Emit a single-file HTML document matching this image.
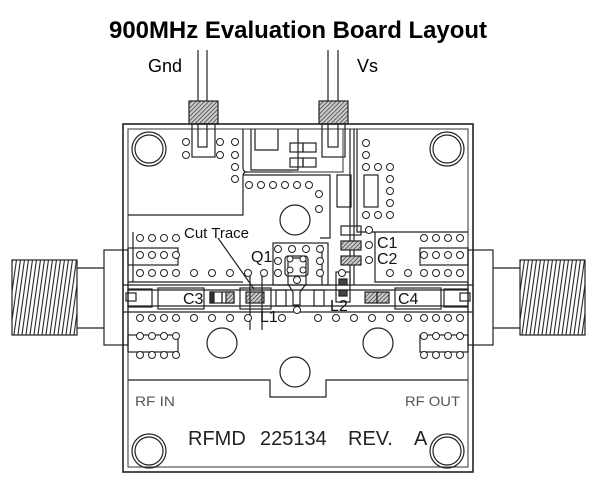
<!DOCTYPE html>
<html><head><style>
html,body{margin:0;padding:0;background:#fff;width:609px;height:486px;overflow:hidden}
svg{display:block}
text{font-family:"Liberation Sans",sans-serif}
</style></head><body>
<svg width="609" height="486" viewBox="0 0 609 486" xmlns="http://www.w3.org/2000/svg">
<defs>
<pattern id="h" width="3" height="3" patternUnits="userSpaceOnUse" patternTransform="rotate(45)"><rect width="3" height="3" fill="#ccc"/><line x1="0" y1="0" x2="0" y2="3" stroke="#333" stroke-width="1.4"/></pattern>
<pattern id="v" width="4" height="10" patternUnits="userSpaceOnUse" patternTransform="skewX(-8)"><line x1="1" y1="0" x2="1" y2="10" stroke="#222" stroke-width="1.1"/></pattern>
</defs>
<text x="298" y="38" font-size="24" font-weight="bold" text-anchor="middle" textLength="378" lengthAdjust="spacingAndGlyphs">900MHz Evaluation Board Layout</text>
<text x="148" y="72" font-size="18">Gnd</text>
<text x="357" y="72" font-size="18">Vs</text>
<g fill="none" stroke="#222" stroke-width="1.2">
<line x1="198" y1="50" x2="198" y2="101"/><line x1="207" y1="50" x2="207" y2="101"/>
<rect x="189" y="101" width="29" height="23" fill="url(#h)"/>
<line x1="328" y1="50" x2="328" y2="101"/><line x1="338" y1="50" x2="338" y2="101"/>
<rect x="319" y="101" width="29" height="23" fill="url(#h)"/>
<rect x="123" y="124" width="350" height="348" stroke-width="1.6"/>
<rect x="128" y="129" width="340" height="338" stroke="#555"/>
<rect x="198" y="124" width="9" height="23"/><rect x="192" y="124" width="23" height="33"/>
<rect x="328" y="124" width="10" height="23"/><rect x="322" y="124" width="23" height="33"/>
<path d="M128 215 H243 V176 Q243 172 247 172 H292 M243 129 V168 Q243 172 247 172"/>
<circle cx="149" cy="149" r="17"/><circle cx="149" cy="149" r="14"/>
<path d="M251 129 V170 H298 V129"/>
<path d="M255 129 V150 H278 V129"/>
<rect x="290" y="143" width="13" height="9"/><rect x="303" y="143" width="13" height="9"/>
<rect x="290" y="158" width="13" height="9"/><rect x="303" y="158" width="13" height="9"/>
<path d="M245 172 H343 V129" stroke="#555"/>
<path d="M243 175 H330 V238 H320"/>
<rect x="337" y="175" width="14" height="32"/>
<line x1="350" y1="129" x2="350" y2="285"/>
<line x1="354" y1="129" x2="354" y2="285"/>
<path d="M357 129 V232 H468"/>
<rect x="364" y="175" width="14" height="32"/>
<circle cx="447" cy="149" r="17"/><circle cx="447" cy="149" r="14"/>
<rect x="128" y="248" width="50" height="17"/>
<line x1="128" y1="282" x2="243" y2="282"/>
<path d="M133 282 V232"/>
<path d="M375 232 V282 H468"/>
<rect x="420" y="248" width="48" height="17"/>
<line x1="123" y1="285" x2="473" y2="285"/><line x1="123" y1="312" x2="473" y2="312"/>
<line x1="128" y1="290" x2="468" y2="290"/><line x1="128" y1="306" x2="468" y2="306"/>
<rect x="128" y="289" width="24" height="18"/><rect x="126" y="293" width="10" height="8"/>
<rect x="444" y="289" width="24" height="18"/><rect x="460" y="293" width="10" height="8"/>
<rect x="158" y="288" width="46" height="21"/>
<rect x="395" y="288" width="46" height="21"/>
<rect x="210" y="292" width="12" height="11"/><rect x="222" y="292" width="12" height="11"/>
<rect x="226" y="292" width="8" height="11" fill="url(#h)"/><rect x="210" y="292" width="4" height="11" fill="#333"/>
<rect x="240" y="288" width="31" height="21"/><rect x="246" y="292" width="18" height="11" fill="url(#h)"/>
<line x1="250" y1="270" x2="250" y2="330"/><line x1="262" y1="270" x2="262" y2="330"/>
<rect x="276" y="290" width="10" height="16"/><rect x="314" y="290" width="10" height="16"/>
<rect x="365" y="292" width="12" height="11" fill="url(#h)"/><rect x="377" y="292" width="12" height="11" fill="url(#h)"/>
<rect x="336" y="272" width="14" height="30"/><rect x="339" y="279" width="8" height="6" fill="#444"/><rect x="339" y="290" width="8" height="6" fill="#444"/>
<rect x="273" y="243" width="55" height="42"/>
<rect x="285" y="256" width="23" height="20" rx="3"/>
<path d="M288 258 H306 V284 L300 292 V305 H293 V292 L288 284 Z"/>
<rect x="341" y="226" width="20" height="9"/>
<rect x="341" y="241" width="20" height="9" fill="url(#h)"/>
<rect x="341" y="256" width="20" height="9" fill="url(#h)"/>
<line x1="322" y1="245" x2="322" y2="285"/>
<line x1="218" y1="238" x2="254" y2="289"/>
<path d="M128 380 H270 V397 H326 V380 H468"/>
<circle cx="295" cy="220" r="15"/><circle cx="222" cy="343" r="15"/><circle cx="378" cy="343" r="15"/><circle cx="295" cy="372" r="15"/>
<rect x="128" y="335" width="50" height="17"/><rect x="420" y="335" width="48" height="17"/>
<circle cx="149" cy="451" r="17"/><circle cx="149" cy="451" r="14"/>
<circle cx="447" cy="451" r="17"/><circle cx="447" cy="451" r="14"/>
<rect x="12" y="260" width="65" height="75" fill="url(#v)"/>
<line x1="77" y1="268" x2="104" y2="268"/><line x1="77" y1="328" x2="104" y2="328"/>
<rect x="104" y="250" width="24" height="95"/>
<rect x="520" y="260" width="65" height="75" fill="url(#v)"/>
<line x1="493" y1="268" x2="520" y2="268"/><line x1="493" y1="328" x2="520" y2="328"/>
<rect x="468" y="250" width="25" height="95"/>
</g>
<g fill="#fff" stroke="#222" stroke-width="1">
<circle cx="186" cy="142" r="3.5"/><circle cx="186" cy="155" r="3.5"/><circle cx="220" cy="142" r="3.5"/><circle cx="220" cy="155" r="3.5"/>
<circle cx="235" cy="142" r="3.5"/><circle cx="235" cy="155" r="3.5"/><circle cx="235" cy="167" r="3.5"/><circle cx="235" cy="179" r="3.5"/>
<circle cx="249" cy="185" r="3.5"/><circle cx="261" cy="185" r="3.5"/><circle cx="273" cy="185" r="3.5"/><circle cx="285" cy="185" r="3.5"/><circle cx="297" cy="185" r="3.5"/><circle cx="309" cy="185" r="3.5"/>
<circle cx="319" cy="194" r="3.5"/><circle cx="319" cy="209" r="3.5"/>
<circle cx="366" cy="143" r="3.5"/><circle cx="366" cy="155" r="3.5"/><circle cx="366" cy="167" r="3.5"/><circle cx="378" cy="167" r="3.5"/><circle cx="390" cy="167" r="3.5"/>
<circle cx="390" cy="179" r="3.5"/><circle cx="390" cy="191" r="3.5"/><circle cx="390" cy="203" r="3.5"/>
<circle cx="366" cy="215" r="3.5"/><circle cx="378" cy="215" r="3.5"/><circle cx="390" cy="215" r="3.5"/>
<circle cx="369" cy="230" r="3.5"/><circle cx="369" cy="245" r="3.5"/><circle cx="369" cy="260" r="3.5"/>
<circle cx="140" cy="238" r="3.5"/><circle cx="152" cy="238" r="3.5"/><circle cx="164" cy="238" r="3.5"/><circle cx="176" cy="238" r="3.5"/>
<circle cx="140" cy="255" r="3.5"/><circle cx="152" cy="255" r="3.5"/><circle cx="164" cy="255" r="3.5"/><circle cx="176" cy="255" r="3.5"/>
<circle cx="140" cy="273" r="3.5"/><circle cx="152" cy="273" r="3.5"/><circle cx="164" cy="273" r="3.5"/><circle cx="176" cy="273" r="3.5"/><circle cx="194" cy="273" r="3.5"/><circle cx="212" cy="273" r="3.5"/><circle cx="230" cy="273" r="3.5"/><circle cx="248" cy="273" r="3.5"/><circle cx="264" cy="273" r="3.5"/>
<circle cx="278" cy="249" r="3.5"/><circle cx="292" cy="249" r="3.5"/><circle cx="306" cy="249" r="3.5"/><circle cx="320" cy="249" r="3.5"/>
<circle cx="278" cy="261" r="3.5"/><circle cx="320" cy="261" r="3.5"/><circle cx="278" cy="273" r="3.5"/><circle cx="320" cy="273" r="3.5"/>
<circle cx="290" cy="259" r="3"/><circle cx="303" cy="259" r="3"/><circle cx="290" cy="270" r="3"/><circle cx="303" cy="270" r="3"/><circle cx="297" cy="280" r="3.5"/><circle cx="297" cy="310" r="3.5"/>
<circle cx="390" cy="273" r="3.5"/><circle cx="408" cy="273" r="3.5"/><circle cx="424" cy="273" r="3.5"/><circle cx="436" cy="273" r="3.5"/><circle cx="448" cy="273" r="3.5"/><circle cx="460" cy="273" r="3.5"/><circle cx="342" cy="273" r="3.5"/>
<circle cx="424" cy="238" r="3.5"/><circle cx="436" cy="238" r="3.5"/><circle cx="448" cy="238" r="3.5"/><circle cx="460" cy="238" r="3.5"/>
<circle cx="424" cy="255" r="3.5"/><circle cx="436" cy="255" r="3.5"/><circle cx="448" cy="255" r="3.5"/><circle cx="460" cy="255" r="3.5"/>
<circle cx="140" cy="318" r="3.5"/><circle cx="152" cy="318" r="3.5"/><circle cx="164" cy="318" r="3.5"/><circle cx="176" cy="318" r="3.5"/><circle cx="194" cy="318" r="3.5"/><circle cx="212" cy="318" r="3.5"/><circle cx="230" cy="318" r="3.5"/><circle cx="248" cy="318" r="3.5"/><circle cx="282" cy="318" r="3.5"/>
<circle cx="318" cy="318" r="3.5"/><circle cx="336" cy="318" r="3.5"/><circle cx="354" cy="318" r="3.5"/><circle cx="372" cy="318" r="3.5"/><circle cx="390" cy="318" r="3.5"/><circle cx="408" cy="318" r="3.5"/><circle cx="424" cy="318" r="3.5"/><circle cx="436" cy="318" r="3.5"/><circle cx="448" cy="318" r="3.5"/><circle cx="460" cy="318" r="3.5"/>
<circle cx="140" cy="336" r="3.5"/><circle cx="152" cy="336" r="3.5"/><circle cx="164" cy="336" r="3.5"/><circle cx="176" cy="336" r="3.5"/>
<circle cx="424" cy="336" r="3.5"/><circle cx="436" cy="336" r="3.5"/><circle cx="448" cy="336" r="3.5"/><circle cx="460" cy="336" r="3.5"/>
<circle cx="140" cy="355" r="3.5"/><circle cx="152" cy="355" r="3.5"/><circle cx="164" cy="355" r="3.5"/><circle cx="176" cy="355" r="3.5"/>
<circle cx="424" cy="355" r="3.5"/><circle cx="436" cy="355" r="3.5"/><circle cx="448" cy="355" r="3.5"/><circle cx="460" cy="355" r="3.5"/>
</g>
<g font-size="16" fill="#111">
<text x="184" y="238" font-size="15">Cut Trace</text>
<text x="251" y="262">Q1</text>
<text x="183" y="304">C3</text>
<text x="398" y="304">C4</text>
<text x="377" y="248">C1</text>
<text x="377" y="264">C2</text>
<text x="330" y="311">L2</text>
<text x="260" y="322">L1</text>
</g>
<text x="135" y="406" font-size="14" fill="#555" textLength="40" lengthAdjust="spacingAndGlyphs">RF IN</text>
<text x="405" y="406" font-size="14" fill="#555" textLength="55" lengthAdjust="spacingAndGlyphs">RF OUT</text>
<g font-size="20" fill="#222">
<text x="188" y="445">RFMD</text>
<text x="260" y="445">225134</text>
<text x="348" y="445">REV.</text>
<text x="414" y="445">A</text>
</g>
</svg>
</body></html>
